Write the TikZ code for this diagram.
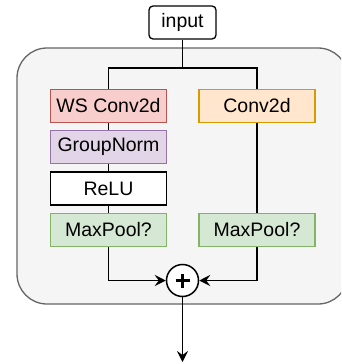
\documentclass[tikz,border=0pt]{standalone}
\usepackage{fontspec}
\setmainfont{Liberation Sans}
\usetikzlibrary{arrows.meta}
\definecolor{redf}{HTML}{F8CECC}\definecolor{redd}{HTML}{B85450}
\definecolor{orgf}{HTML}{FFE6CC}\definecolor{orgd}{HTML}{D79B00}
\definecolor{purf}{HTML}{E1D5E7}\definecolor{purd}{HTML}{9673A6}
\definecolor{grnf}{HTML}{D5E8D4}\definecolor{grnd}{HTML}{82B366}
\definecolor{conf}{HTML}{F5F5F5}\definecolor{cond}{HTML}{666666}
\begin{document}
\begin{tikzpicture}[x=1pt,y=-1pt,
  blk/.style={draw, line width=1.3pt, minimum width=116pt, minimum height=33pt, inner sep=0pt, font=\fontsize{19.5}{23}\selectfont},
  conn/.style={line width=1.6pt, black},
  tip/.style={-{Stealth[length=11pt,width=11pt,inset=4pt]}}]
\useasboundingbox (0,0) rectangle (341,364);
\begin{scope}
\clip (0,0) rectangle (341,364);
\node[draw=cond, fill=conf, line width=1.3pt, rounded corners=30pt, minimum width=331pt, minimum height=256pt, inner sep=0pt] (cont) at (182.5,176) {};
\end{scope}
\node[draw, line width=1.3pt, rounded corners=4pt, minimum width=67pt, minimum height=33pt, inner sep=0pt, font=\fontsize{19.5}{23}\selectfont] (in) at (182.5,22.5) {input};
\node[blk, draw=redd, fill=redf] (ws) at (108.5,106) {WS Conv2d};
\node[blk, draw=purd, fill=purf] (gn) at (108.5,147) {GroupNorm};
\node[blk, draw=black, fill=white] (relu) at (108.5,188.5) {ReLU};
\node[blk, draw=grnd, fill=grnf] (mpl) at (108.5,230) {MaxPool?};
\node[blk, draw=orgd, fill=orgf] (cv) at (257,106) {Conv2d};
\node[blk, draw=grnd, fill=grnf] (mpr) at (257,230) {MaxPool?};
\node[draw, circle, line width=1.5pt, fill=white, minimum size=32pt, inner sep=0pt] (sum) at (182.5,280.5) {};
\draw[line width=2.2pt] ([xshift=-7pt]sum.center) -- ([xshift=7pt]sum.center);
\draw[line width=2.2pt] ([yshift=-7pt]sum.center) -- ([yshift=7pt]sum.center);
\coordinate (out) at (182.5,362);
\draw[conn] (in.south) -- (182.5,68) -| (ws.north);
\draw[conn] (182.5,68) -| (cv.north);
\draw[conn] (ws) -- (gn);
\draw[conn] (gn) -- (relu);
\draw[conn] (relu) -- (mpl);
\draw[conn] (cv) -- (mpr);
\draw[conn,tip] (mpl.south) |- (sum.west);
\draw[conn,tip] (mpr.south) |- (sum.east);
\draw[conn,tip] (sum.south) -- (out);
\end{tikzpicture}
\end{document}
